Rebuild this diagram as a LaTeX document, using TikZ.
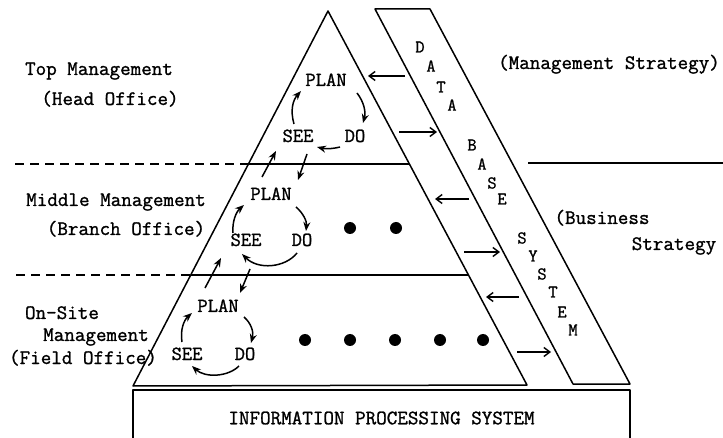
\documentclass[tikz,border=0pt]{standalone}
\usepackage{fontspec}
\newfontfamily\monof[FakeBold=1.2]{Latin Modern Mono}
\usetikzlibrary{arrows.meta}
\begin{document}
\begin{tikzpicture}[x=1pt,y=-1pt,line width=1.5pt,line join=round,
  lbl/.style={font=\monof\fontsize{20.5}{22}\selectfont,inner sep=0pt,anchor=base},
  cyc/.style={font=\monof\fontsize{20}{22}\selectfont,inner sep=0pt,anchor=base},
  dbl/.style={font=\monof\fontsize{18}{20}\selectfont,inner sep=0pt},
  dotn/.style={circle,fill,inner sep=0pt,minimum size=12pt},
  flow/.style={-{Straight Barb[length=6pt,width=9pt]},line width=1.4pt},
  cyca/.style={-{Stealth[length=9pt,width=7pt]},line width=1.5pt},
  dash9/.style={dash pattern=on 9pt off 6pt}]
\clip (0,0) rectangle (723,438);
% pyramid
\coordinate (apex) at (328,11);
\coordinate (bl) at (133,386);
\coordinate (br) at (527,385);
\draw (apex) -- (br) -- (bl) -- cycle;
% level lines
\coordinate (l1a) at (15,164);
\coordinate (l1b) at (248.4,164);
\coordinate (l1c) at (409,164);
\coordinate (l2a) at (16,275);
\coordinate (l2b) at (190.7,275);
\coordinate (l2c) at (468,275);
\draw[dash9] (l1a) -- (l1b);
\draw (l1b) -- (l1c);
\draw[dash9] (l2a) -- (l2b);
\draw (l2b) -- (l2c);
\coordinate (r1a) at (528,163);
\coordinate (r1b) at (723,163);
\draw (r1a) -- (r1b);
% database band
\draw (375,9) -- (430,9) -- (630,384) -- (573,384) -- cycle;
\node[dbl] (d1) at (420,47) {D};
\node[dbl] (d2) at (431,66) {A};
\node[dbl] (d3) at (441,87) {T};
\node[dbl] (d4) at (452,105) {A};
\node[dbl] (d5) at (472,145) {B};
\node[dbl] (d6) at (482,164) {A};
\node[dbl] (d7) at (492,183) {S};
\node[dbl] (d8) at (502,199) {E};
\node[dbl] (d9) at (522,238) {S};
\node[dbl] (d10) at (533,256) {Y};
\node[dbl] (d11) at (542,274) {S};
\node[dbl] (d12) at (553,292) {T};
\node[dbl] (d13) at (562,312) {E};
\node[dbl] (d14) at (573,330) {M};
% band arrows
\coordinate (a1s) at (405,76); \coordinate (a1e) at (368,76);
\coordinate (a2s) at (399,132); \coordinate (a2e) at (437,132);
\coordinate (a3s) at (469,199); \coordinate (a3e) at (435,199);
\coordinate (a4s) at (464,252); \coordinate (a4e) at (500,252);
\coordinate (a5s) at (519,297); \coordinate (a5e) at (486,297);
\coordinate (a6s) at (517,352); \coordinate (a6e) at (551,352);
\draw[flow] (a1s) -- (a1e);
\draw[flow] (a2s) -- (a2e);
\draw[flow] (a3s) -- (a3e);
\draw[flow] (a4s) -- (a4e);
\draw[flow] (a5s) -- (a5e);
\draw[flow] (a6s) -- (a6e);
% left labels
\node[lbl] (t1) at (99,75) {Top Management};
\node[lbl] (t2) at (110,105) {(Head Office)};
\node[lbl] (t3) at (116,206) {Middle Management};
\node[lbl] (t4) at (126,235) {(Branch Office)};
\node[lbl] (t5) at (62,319) {On-Site};
\node[lbl] (t6) at (96,341) {Management};
\node[lbl] (t7) at (83,364) {(Field Office)};
% right labels
\node[lbl] (s1) at (609,69) {(Management Strategy)};
\node[lbl] (s2) at (602,224) {(Business};
\node[lbl] (s3) at (674,250) {Strategy};
% top cycle
\node[cyc] (p1) at (326,86) {PLAN};
\node[cyc] (e1) at (298,142) {SEE};
\node[cyc] (o1) at (355,142) {DO};
\draw[cyca] (294,124) .. controls (290,110) and (293,100) .. (301,91);
\draw[cyca] (357,93) .. controls (364,102) and (366,112) .. (363,123);
\draw[cyca] (340,147) .. controls (332,149) and (325,149) .. (317,147);
% middle cycle
\node[cyc] (p2) at (271,200) {PLAN};
\node[cyc] (e2) at (246,246) {SEE};
\node[cyc] (o2) at (302,246) {DO};
\draw[cyca] (233,233) .. controls (232,222) and (236,212) .. (244,205);
\draw[cyca] (296,207) .. controls (303,213) and (307,221) .. (306,231);
\draw[cyca] (297,253) .. controls (285,268) and (258,270) .. (242,254);
% bottom cycle
\node[cyc] (p3) at (218,312) {PLAN};
\node[cyc] (e3) at (187,360) {SEE};
\node[cyc] (o3) at (245,360) {DO};
\draw[cyca] (182,342) .. controls (180,330) and (184,320) .. (192,313);
\draw[cyca] (244,317) .. controls (251,323) and (254,332) .. (251,343);
\draw[cyca] (239,366) .. controls (228,377) and (205,378) .. (192,366);
% inter-level arrows
\draw[cyca] (307,154) -- (298,180);
\draw[cyca] (262,177) -- (276,151);
\draw[cyca] (250,269) -- (240,293);
\draw[cyca] (205,288) -- (221,258);
% dots
\node[dotn] (m1) at (350,228) {};
\node[dotn] (m2) at (396,228) {};
\node[dotn] (b1) at (305,340) {};
\node[dotn] (b2) at (350,340) {};
\node[dotn] (b3) at (395,340) {};
\node[dotn] (b4) at (440,340) {};
\node[dotn] (b5) at (483,340) {};
% bottom box
\node[draw,minimum width=497pt,minimum height=56pt,inner sep=0pt,
  font=\monof\fontsize{20.5}{22}\selectfont] (ips) at (381.5,418) {INFORMATION PROCESSING SYSTEM};
\end{tikzpicture}
\end{document}
